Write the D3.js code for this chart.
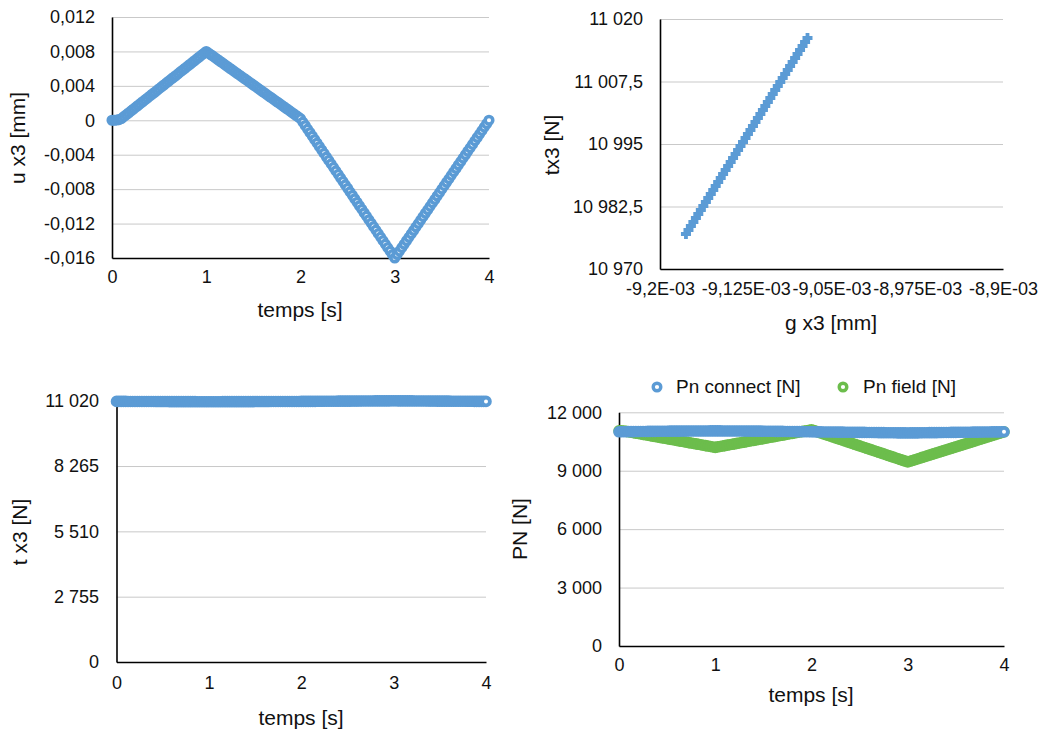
<!DOCTYPE html>
<html><head><meta charset="utf-8">
<script src="https://cdn.jsdelivr.net/npm/d3@7"></script>
<style>
html,body{margin:0;padding:0;background:#fff;}
svg{display:block;font-family:"Liberation Sans",Helvetica,Arial,sans-serif;}
</style></head>
<body>
<svg id="chart" width="1054" height="736"></svg>
<script>
// ---------- DATA ----------
const time = [0,0.025,0.05,0.075,0.1,0.125,0.15,0.175,0.2,0.225,0.25,0.275,0.3,0.325,0.35,0.375,0.4,0.425,0.45,0.475,0.5,0.525,0.55,0.575,0.6,0.625,0.65,0.675,0.7,0.725,0.75,0.775,0.8,0.825,0.85,0.875,0.9,0.925,0.95,0.975,1,1.025,1.05,1.075,1.1,1.125,1.15,1.175,1.2,1.225,1.25,1.275,1.3,1.325,1.35,1.375,1.4,1.425,1.45,1.475,1.5,1.525,1.55,1.575,1.6,1.625,1.65,1.675,1.7,1.725,1.75,1.775,1.8,1.825,1.85,1.875,1.9,1.925,1.95,1.975,2,2.025,2.05,2.075,2.1,2.125,2.15,2.175,2.2,2.225,2.25,2.275,2.3,2.325,2.35,2.375,2.4,2.425,2.45,2.475,2.5,2.525,2.55,2.575,2.6,2.625,2.65,2.675,2.7,2.725,2.75,2.775,2.8,2.825,2.85,2.875,2.9,2.925,2.95,2.975,3,3.025,3.05,3.075,3.1,3.125,3.15,3.175,3.2,3.225,3.25,3.275,3.3,3.325,3.35,3.375,3.4,3.425,3.45,3.475,3.5,3.525,3.55,3.575,3.6,3.625,3.65,3.675,3.7,3.725,3.75,3.775,3.8,3.825,3.85,3.875,3.9,3.925,3.95,3.975,4];

const uX3 = [0,0,0.00003,0.00008,0.0002,0.00042,0.00063,0.00085,0.00107,0.00128,0.0015,0.00172,0.00193,0.00215,0.00237,0.00258,0.0028,0.00302,0.00323,0.00345,0.00367,0.00388,0.0041,0.00432,0.00453,0.00475,0.00497,0.00518,0.0054,0.00562,0.00583,0.00605,0.00627,0.00648,0.0067,0.00692,0.00713,0.00735,0.00757,0.00778,0.008,
0.00781,0.00761,0.00742,0.00722,0.00703,0.00683,0.00664,0.00644,0.00625,0.00605,0.00586,0.00566,0.00547,0.00527,0.00508,0.00488,0.00469,0.00449,0.0043,0.0041,0.00391,0.00371,0.00352,0.00332,0.00313,0.00293,0.00274,0.00254,0.00235,0.00215,0.00196,0.00176,0.00157,0.00137,0.00118,0.00098,0.00079,0.00059,0.0004,0.0002,
-0.00021,-0.00061,-0.00102,-0.00142,-0.00183,-0.00223,-0.00264,-0.00304,-0.00345,-0.00385,-0.00426,-0.00466,-0.00507,-0.00547,-0.00588,-0.00628,-0.00669,-0.00709,-0.0075,-0.0079,-0.00831,-0.00871,-0.00912,-0.00952,-0.00993,-0.01033,-0.01074,-0.01114,-0.01155,-0.01195,-0.01236,-0.01276,-0.01317,-0.01357,-0.01398,-0.01438,-0.01479,-0.01519,-0.0156,-0.016,
-0.0156,-0.0152,-0.0148,-0.0144,-0.014,-0.0136,-0.0132,-0.0128,-0.0124,-0.012,-0.0116,-0.0112,-0.0108,-0.0104,-0.01,-0.0096,-0.0092,-0.0088,-0.0084,-0.008,-0.0076,-0.0072,-0.0068,-0.0064,-0.006,-0.0056,-0.0052,-0.0048,-0.0044,-0.004,-0.0036,-0.0032,-0.0028,-0.0024,-0.002,-0.0016,-0.0012,-0.0008,-0.0004,0];

const tX3 = [10990,10990,10990,10989.9,10989.7,10989.4,10989,10988.7,10988.3,10988,10987.6,10987.3,10986.9,10986.5,10986.1,10985.8,10985.5,10985.1,10984.8,10984.4,10984,10983.7,10983.3,10983,10982.6,10982.3,10981.9,10981.6,10981.2,10980.9,10980.5,10980.2,10979.8,10979.5,10979.1,10978.8,10978.4,10978.1,10977.7,10977.4,10977,
10977.3,10977.6,10978,10978.3,10978.6,10978.9,10979.2,10979.5,10979.9,10980.2,10980.5,10980.8,10981.1,10981.4,10981.8,10982.1,10982.4,10982.7,10983,10983.3,10983.7,10984,10984.3,10984.6,10984.9,10985.2,10985.6,10985.9,10986.2,10986.5,10986.8,10987.1,10987.5,10987.8,10988.1,10988.4,10988.7,10989,10989.4,10989.7,
10990.3,10991,10991.6,10992.3,10992.9,10993.6,10994.2,10994.9,10995.6,10996.3,10996.9,10997.6,10998.2,10998.9,10999.5,11000.2,11000.8,11001.5,11002.1,11002.8,11003.5,11004.2,11004.8,11005.5,11006.1,11006.8,11007.4,11008.1,11008.7,11009.4,11010,11010.7,11011.4,11012.1,11012.7,11013.4,11014,11014.7,11015.3,11016,
11015.4,11014.7,11014.1,11013.4,11012.8,11012.1,11011.5,11010.8,11010.2,11009.5,11008.9,11008.2,11007.6,11006.9,11006.3,11005.6,11005,11004.3,11003.7,11003,11002.4,11001.7,11001.1,11000.4,10999.8,10999.1,10998.5,10997.8,10997.2,10996.5,10995.9,10995.2,10994.6,10993.9,10993.3,10992.6,10992,10991.3,10990.7,10990];

const pnConnect = [11000,11002,11003,11005,11006,11008,11009,11011,11012,11014,11015,11017,11018,11020,11021,11023,11024,11026,11027,11029,11030,11031,11032,11033,11034,11035,11036,11037,11038,11039,11040,11040,11041,11041,11042,11042,11043,11043,11044,11044,11045,
11044,11044,11043,11043,11042,11042,11041,11041,11040,11040,11039,11038,11037,11036,11035,11034,11033,11032,11031,11030,11029,11027,11026,11024,11023,11021,11020,11018,11017,11015,11014,11012,11011,11009,11008,11006,11005,11003,11002,11000,
10998,10997,10995,10994,10992,10991,10989,10988,10986,10985,10983,10982,10980,10979,10977,10976,10974,10973,10971,10970,10968,10967,10965,10964,10962,10961,10959,10958,10956,10955,10953,10952,10950,10949,10947,10946,10944,10943,10941,10940,
10942,10943,10945,10946,10948,10949,10951,10952,10954,10955,10957,10958,10960,10961,10963,10964,10966,10967,10969,10970,10972,10973,10975,10976,10978,10979,10981,10982,10984,10985,10987,10988,10990,10991,10993,10994,10996,10997,10999,11000];

const pnField = [11050,11046,11040,11022,11000,10978,10956,10933,10911,10889,10867,10844,10822,10800,10778,10756,10733,10711,10689,10667,10644,10622,10600,10578,10556,10533,10511,10489,10467,10444,10422,10400,10378,10356,10333,10311,10289,10267,10244,10222,10200,
10223,10245,10268,10290,10313,10335,10358,10380,10403,10425,10448,10470,10493,10515,10538,10560,10583,10605,10628,10650,10673,10695,10718,10740,10763,10785,10808,10830,10853,10875,10898,10920,10943,10965,10988,11010,11033,11055,11078,11100,
11059,11018,10976,10935,10894,10853,10811,10770,10729,10688,10646,10605,10564,10523,10481,10440,10399,10358,10316,10275,10234,10193,10151,10110,10069,10028,9986,9945,9904,9863,9821,9780,9739,9698,9656,9615,9574,9533,9491,9450,
9489,9528,9566,9605,9644,9683,9721,9760,9799,9838,9876,9915,9954,9993,10031,10070,10109,10148,10186,10225,10264,10303,10341,10380,10419,10458,10496,10535,10574,10613,10651,10690,10729,10768,10806,10845,10884,10923,10961,11000];

const gX3 = [-9.1773e-3,-9.1751e-3,-9.1730e-3,-9.1708e-3,-9.1686e-3,-9.1665e-3,-9.1643e-3,-9.1621e-3,-9.1599e-3,-9.1578e-3,-9.1556e-3,-9.1534e-3,-9.1513e-3,-9.1491e-3,-9.1469e-3,-9.1448e-3,-9.1426e-3,-9.1404e-3,-9.1382e-3,-9.1361e-3,-9.1339e-3,-9.1317e-3,-9.1296e-3,-9.1274e-3,-9.1252e-3,-9.1231e-3,-9.1209e-3,-9.1187e-3,-9.1165e-3,-9.1144e-3,-9.1122e-3,-9.1100e-3,-9.1079e-3,-9.1057e-3,-9.1035e-3,-9.1014e-3,-9.0992e-3,-9.0970e-3,-9.0948e-3,-9.0927e-3,-9.0905e-3,-9.0883e-3,-9.0862e-3,-9.0840e-3,-9.0818e-3,-9.0797e-3,-9.0775e-3,-9.0753e-3,-9.0731e-3,-9.0710e-3];
const tX3Scatter = [10977,10977.8,10978.6,10979.4,10980.2,10981,10981.8,10982.6,10983.4,10984.2,10985,10985.8,10986.6,10987.4,10988.2,10989,10989.8,10990.6,10991.4,10992.2,10993,10993.8,10994.6,10995.4,10996.2,10997,10997.8,10998.6,10999.4,11000.2,11001,11001.8,11002.6,11003.4,11004.2,11005,11005.8,11006.6,11007.4,11008.2,11009,11009.8,11010.6,11011.4,11012.2,11013,11013.8,11014.6,11015.4,11016.2];

const timeTicks = [0,1,2,3,4];
const timeTickLabels = ["0","1","2","3","4"];
const uTicks = [-0.016,-0.012,-0.008,-0.004,0,0.004,0.008,0.012];
const uTickLabels = ["-0,016","-0,012","-0,008","-0,004","0","0,004","0,008","0,012"];
const gTicks = [-9.2e-3,-9.125e-3,-9.05e-3,-8.975e-3,-8.9e-3];
const gTickLabels = ["-9,2E-03","-9,125E-03","-9,05E-03","-8,975E-03","-8,9E-03"];
const txTicks = [10970,10982.5,10995,11007.5,11020];
const txTickLabels = ["10 970","10 982,5","10 995","11 007,5","11 020"];
const tTicks = [0,2755,5510,8265,11020];
const tTickLabels = ["0","2 755","5 510","8 265","11 020"];
const pnTicks = [0,3000,6000,9000,12000];
const pnTickLabels = ["0","3 000","6 000","9 000","12 000"];
const legendNames = ["Pn connect [N]","Pn field [N]"];

// ---------- STYLE ----------
const BLUE = "#5b9bd5", GREEN = "#6cbd4c";
const GRID = "#c9c9c9";
const TICK_FS = 18, TITLE_FS = 21;
const FONT = "Liberation Sans, Helvetica, Arial, sans-serif";

const svg = d3.select("#chart");

function panel(c){
  const x = d3.scaleLinear().domain(c.xDomain).range([c.left, c.right]);
  const y = d3.scaleLinear().domain(c.yDomain).range([c.bottom, c.top]);
  const g = svg.append("g");
  g.append("g").attr("transform",`translate(${c.left},0)`)
    .call(d3.axisLeft(y).tickValues(c.yTicks).tickSize(-(c.right-c.left)).tickFormat(""))
    .call(s=>{s.select(".domain").remove(); s.selectAll("text").remove();
      s.selectAll("line").attr("stroke",GRID).attr("stroke-width",1);});
  g.append("g").attr("transform",`translate(${c.left},0)`)
    .call(d3.axisLeft(y).tickValues(c.yTicks).tickFormat((d,i)=>c.yLabels[i]).tickSize(0).tickSizeOuter(0).tickPadding(c.yPad))
    .call(s=>{s.select(".domain").attr("stroke","#000").attr("stroke-width",1.6);
      s.selectAll("text").attr("font-size",TICK_FS).attr("fill","#111").attr("font-family",FONT);});
  g.append("g").attr("transform",`translate(0,${c.bottom})`)
    .call(d3.axisBottom(x).tickValues(c.xTicks).tickFormat((d,i)=>c.xLabels[i]).tickSize(0).tickSizeOuter(0).tickPadding(c.xPad))
    .call(s=>{s.select(".domain").attr("stroke","#000").attr("stroke-width",1.6);
      s.selectAll("text").attr("font-size",TICK_FS).attr("fill","#111").attr("font-family",FONT);});
  g.append("text").attr("x",c.xTitle[0]).attr("y",c.xTitle[1]).attr("text-anchor","middle")
    .attr("font-size",TITLE_FS).attr("fill","#111").text(c.xTitleText);
  g.append("text").attr("transform",`translate(${c.yTitle[0]},${c.yTitle[1]}) rotate(-90)`).attr("text-anchor","middle")
    .attr("font-size",TITLE_FS).attr("fill","#111").text(c.yTitleText);
  return {x,y,g};
}

function rings(p, xs, ys, color, r, sw){
  p.g.append("g").selectAll("circle").data(xs.map((d,i)=>[d,ys[i]])).join("circle")
    .attr("cx",d=>p.x(d[0])).attr("cy",d=>p.y(d[1])).attr("r",r)
    .attr("fill","#fff").attr("stroke",color).attr("stroke-width",sw);
}

// ---- Top-left: u x3 ----
const p1 = panel({left:112,right:489,top:17,bottom:258,xDomain:[0,4],yDomain:[-0.016,0.012],
  xTicks:timeTicks,xLabels:timeTickLabels,yTicks:uTicks,yLabels:uTickLabels,yPad:17,xPad:12,
  xTitle:[300,317],xTitleText:"temps [s]",yTitle:[25,138],yTitleText:"u x3 [mm]"});
rings(p1, time, uX3, BLUE, 3.8, 3.5);

// ---- Top-right: tx3 vs g x3 ----
const p2 = panel({left:660,right:1003,top:19,bottom:269,xDomain:[-9.2e-3,-8.9e-3],yDomain:[10970,11020],
  xTicks:gTicks,xLabels:gTickLabels,yTicks:txTicks,yLabels:txTickLabels,yPad:17,xPad:13,
  xTitle:[831,330],xTitleText:"g x3 [mm]",yTitle:[559,145],yTitleText:"tx3 [N]"});
p2.g.append("g").selectAll("path").data(gX3.map((d,i)=>[d,tX3Scatter[i]])).join("path")
  .attr("d","M-5,0H5M0,-5V5")
  .attr("transform",d=>`translate(${p2.x(d[0])},${p2.y(d[1])})`)
  .attr("stroke",BLUE).attr("stroke-width",3.8).attr("fill","none");

// ---- Bottom-left: t x3 ----
const p3 = panel({left:116.5,right:486,top:400.7,bottom:662,xDomain:[0,4],yDomain:[0,11020],
  xTicks:timeTicks,xLabels:timeTickLabels,yTicks:tTicks,yLabels:tTickLabels,yPad:17.5,xPad:14,
  xTitle:[301,725],xTitleText:"temps [s]",yTitle:[27,532],yTitleText:"t x3 [N]"});
rings(p3, time, tX3, BLUE, 3.9, 3.8);

// ---- Bottom-right: PN ----
const p4 = panel({left:619,right:1004,top:412.3,bottom:646,xDomain:[0,4],yDomain:[0,12000],
  xTicks:timeTicks,xLabels:timeTickLabels,yTicks:pnTicks,yLabels:pnTickLabels,yPad:17,xPad:12,
  xTitle:[811,702],xTitleText:"temps [s]",yTitle:[527,529],yTitleText:"PN [N]"});
rings(p4, time, pnField, GREEN, 3.9, 3.8);
rings(p4, time, pnConnect, BLUE, 3.9, 3.8);

// legend
const leg = svg.append("g");
const legX = [[657,676],[843,863]];
[BLUE,GREEN].forEach((col,i)=>{
  leg.append("circle").attr("cx",legX[i][0]).attr("cy",387).attr("r",3.8).attr("fill","#fff")
    .attr("stroke",col).attr("stroke-width",3.4);
  leg.append("text").attr("x",legX[i][1]).attr("y",393).attr("font-size",19).attr("fill","#111").text(legendNames[i]);
});
</script>
</body></html>
